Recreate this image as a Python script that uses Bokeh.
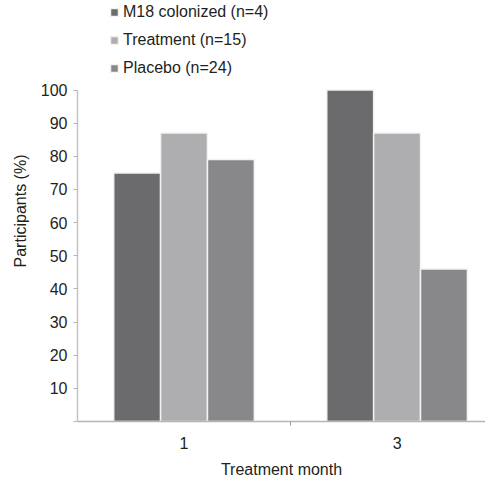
from bokeh.plotting import figure
from bokeh.models import ColumnDataSource, Range1d, FixedTicker, Legend, LegendItem
from bokeh.transform import dodge
from bokeh.embed import file_html
from bokeh.resources import INLINE

months = ["1", "3"]
series_names = ["M18 colonized (n=4)", "Treatment (n=15)", "Placebo (n=24)"]
m18 = [75, 100]
treatment = [87, 87]
placebo = [79, 46]
y_ticks = [0, 10, 20, 30, 40, 50, 60, 70, 80, 90, 100]

colors = ["#6b6b6d", "#aeaeb0", "#88888b"]
FONT = "Liberation Sans"
TXT = "#231f20"
FS = "16px"

xpos = [i + 0.5 for i in range(len(months))]
src = ColumnDataSource(dict(x=xpos, m18=m18, treatment=treatment, placebo=placebo))

# frame reaches the top of the canvas; the y axis line is bounded to 0..100,
# the space above 100 holds the legend
p = figure(width=485, height=480, output_backend="svg", toolbar_location=None,
           x_range=Range1d(0, 1.915), y_range=Range1d(0, 127.0),
           min_border_left=77, min_border_right=0, min_border_top=0, min_border_bottom=57)
p.outline_line_color = None
p.grid.grid_line_color = None
p.background_fill_color = "white"
p.border_fill_color = "white"

bw = 0.22
renderers = []
for key, off, col in zip(["m18", "treatment", "placebo"], [-bw, 0, bw], colors):
    r = p.vbar(x=dodge("x", off, range=p.x_range), top=key, width=bw, bottom=0, source=src,
               fill_color=col, line_color="#f2f2f2", line_width=1.5)
    renderers.append(r)

# x axis
xa = p.xaxis[0]
xa.ticker = FixedTicker(ticks=xpos, minor_ticks=[1.0])
xa.major_label_overrides = {x: m for x, m in zip(xpos, months)}
xa.major_tick_line_color = None
xa.major_tick_out = 0
xa.minor_tick_line_color = "#9a9a9a"
xa.minor_tick_out = 4
xa.minor_tick_in = 0
xa.axis_line_color = "#b5b5b5"
xa.axis_line_width = 1.5
xa.axis_label = "Treatment month"
xa.major_label_standoff = 11
xa.axis_label_standoff = 9

# y axis
ya = p.yaxis[0]
ya.bounds = (0, 100)
ya.ticker = FixedTicker(ticks=y_ticks)
ya.major_label_overrides = {0: ""}
ya.major_tick_line_color = "#b5b5b5"
ya.major_tick_out = 4
ya.major_tick_in = 0
ya.minor_tick_line_color = None
ya.axis_line_color = "#c4c4c4"
ya.axis_line_width = 1.5
ya.axis_label = "Participants (%)"
ya.major_label_standoff = 6
ya.axis_label_standoff = 9

for ax in (xa, ya):
    ax.major_label_text_font = FONT
    ax.major_label_text_font_size = FS
    ax.major_label_text_color = TXT
    ax.axis_label_text_font = FONT
    ax.axis_label_text_font_size = FS
    ax.axis_label_text_font_style = "normal"
    ax.axis_label_text_color = TXT

legend = Legend(items=[LegendItem(label=n, renderers=[r]) for n, r in zip(series_names, renderers)],
                location=(32, 344), orientation="vertical",
                label_text_font=FONT, label_text_font_size=FS, label_text_color=TXT,
                glyph_width=10, glyph_height=10, label_height=18, label_standoff=4,
                spacing=10, padding=0, margin=0,
                border_line_color=None, background_fill_alpha=0)
p.add_layout(legend, "center")

open("out.html", "w").write(file_html(p, INLINE))
